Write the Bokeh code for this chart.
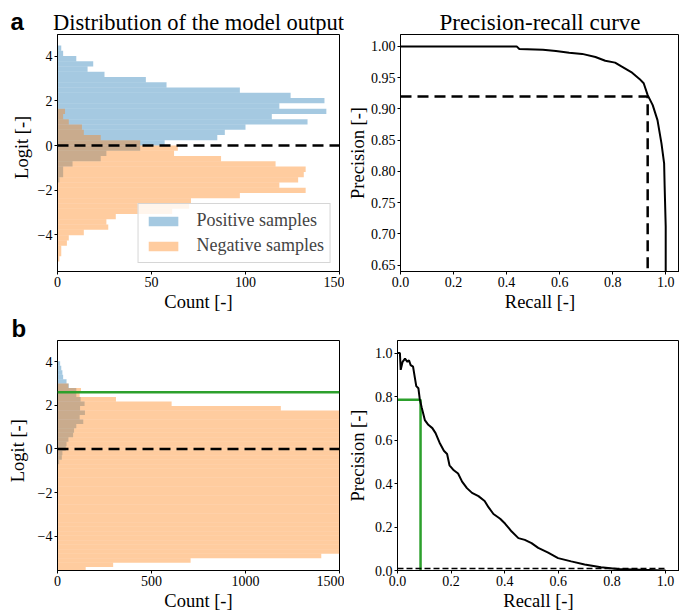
import numpy as np
from bokeh.plotting import figure
from bokeh.layouts import column, row
from bokeh.models import (Range1d, Span, Legend, LegendItem, FixedTicker,
                          NumeralTickFormatter)
from bokeh.core.properties import value
from bokeh.embed import file_html
from bokeh.resources import INLINE

SERIF = "Liberation Serif"
SANS = "Liberation Sans"
BLUE = "#1f77b4"
ORANGE = "#ff7f0e"
GREEN = "#2ca02c"

# ---------------- panel a : histogram of logits ----------------
# bin k covers [(k-1)*w, k*w], k = -21 .. 19
a_bin_width = 0.2364
a_bin_index = list(range(-21, 20))
a_neg_counts = [1, 2, 2, 5, 6, 14, 27, 26, 31, 61, 70, 71, 97, 132, 118, 128, 131, 132,
                116, 87, 62, 64, 44, 23, 14, 13, 6, 3, 4,
                0, 0, 0, 0, 0, 0, 0, 0, 0, 0, 0, 0]
a_pos_counts = [0, 0, 0, 0, 0, 0, 0, 0, 0, 0, 0, 0, 0, 0, 0,
                1, 3, 3, 8, 23, 26, 44, 57, 85, 89, 100, 133, 114, 143, 118, 142,
                124, 97, 58, 47, 25, 16, 19, 10, 3, 2]
a_threshold = 0.0
a_hist_xticks = [0, 50, 100, 150]
logit_ticks = [-4, -2, 0, 2, 4]

# ---------------- panel a : precision-recall ----------------
a_recall = [0.0, 0.438, 0.448, 0.537, 0.586, 0.636, 0.685, 0.735, 0.772, 0.809, 0.833,
            0.870, 0.901, 0.917, 0.932, 0.951, 0.969, 0.984, 0.994, 0.996, 1.0, 1.0, 1.0]
a_precision = [1.0, 1.0, 0.9958, 0.9947, 0.9926, 0.990, 0.988, 0.983, 0.977, 0.974, 0.968,
               0.959, 0.948, 0.941, 0.922, 0.906, 0.882, 0.845, 0.813, 0.776, 0.712, 0.64, 0.5]
a_op_recall = 0.932
a_op_precision = 0.92
a_pr_yticks = [0.65, 0.70, 0.75, 0.80, 0.85, 0.90, 0.95, 1.00]
recall_ticks = [0.0, 0.2, 0.4, 0.6, 0.8, 1.0]

# ---------------- panel b : histogram of logits ----------------
b_bin_low = -5.63
b_bin_width = 0.2055
b_neg_counts = [150, 296, 708, 1403, 2300, 3400, 4700, 6100, 7600, 8900, 10100, 11200,
                12000, 12600, 12900, 13000, 12800, 12300, 11600, 10700, 9800, 8800, 7900,
                7000, 6200, 5500, 4900, 4300, 3800, 3300, 2900, 2500, 2200, 1950, 1700,
                1560, 1188, 607, 311, 118, 125, 58, 0, 0, 0, 0, 0]
b_pos_counts = [0, 0, 0, 0, 0, 0, 0, 0, 0, 0, 0, 0, 0, 0, 0, 0, 0, 0, 0, 0, 0, 0, 0,
                3, 9, 23, 26, 44, 48, 58, 83, 88, 100, 137, 118, 146, 120, 144, 123, 100,
                100, 60, 48, 30, 26, 20, 14]
b_threshold_green = 2.6
b_hist_xticks = [0, 500, 1000, 1500]

# ---------------- panel b : precision-recall ----------------
b_recall = [0.0, 0.009, 0.012, 0.019, 0.028, 0.037, 0.043, 0.049, 0.058, 0.065, 0.070,
            0.078, 0.083, 0.090, 0.102, 0.115, 0.130, 0.142, 0.157, 0.173, 0.185, 0.194,
            0.210, 0.226, 0.241, 0.259, 0.278, 0.302, 0.325, 0.340, 0.358, 0.383, 0.401,
            0.426, 0.451, 0.475, 0.500, 0.525, 0.562, 0.599, 0.648, 0.698, 0.759, 0.821,
            0.907, 1.0]
b_precision = [1.0, 1.0, 0.923, 0.960, 0.975, 0.960, 0.967, 0.945, 0.9375, 0.885, 0.848,
               0.838, 0.789, 0.751, 0.692, 0.670, 0.655, 0.632, 0.588, 0.551, 0.536, 0.484,
               0.461, 0.446, 0.409, 0.379, 0.357, 0.342, 0.320, 0.290, 0.260, 0.238, 0.216,
               0.179, 0.149, 0.141, 0.126, 0.104, 0.082, 0.057, 0.042, 0.028, 0.015, 0.0074,
               0.003, 0.0]
b_op_recall = 0.086
b_op_precision = 0.786
b_baseline = 0.0095
b_baseline_recall = [0.0, 1.0]
b_pr_yticks = [0.0, 0.2, 0.4, 0.6, 0.8, 1.0]

MINUS = {-4: "\u22124", -2: "\u22122"}
STRIP_W = 34
A_YRANGE = (-5.65, 4.98)
C_YRANGE = (-5.58, 4.98)


def base_fig(width, height, xr, yr, bl, br, bt, bb, title=None, title_size="23px"):
    kw = dict(width=width, height=height, x_range=Range1d(*xr), y_range=Range1d(*yr),
              output_backend="svg", toolbar_location=None,
              min_border_left=bl, min_border_right=br, min_border_top=bt,
              min_border_bottom=bb)
    if title is None:
        kw["title"] = None
    p = figure(**kw)
    if title is not None:
        p.title.text = title
        p.title.text_font = SERIF
        p.title.text_font_size = title_size
        p.title.text_font_style = "normal"
        p.title.align = "center"
        p.title.standoff = 0
        p.title.text_color = "black"
    p.xgrid.grid_line_color = None
    p.ygrid.grid_line_color = None
    p.outline_line_color = "black"
    p.outline_line_width = 1
    p.outline_line_alpha = 1
    for axes in (p.xaxis, p.yaxis):
        axes.axis_line_color = "black"
        axes.major_tick_line_color = "black"
        axes.minor_tick_line_color = None
        axes.major_tick_out = 3
        axes.major_tick_in = 0
        axes.major_label_text_font = SERIF
        axes.major_label_text_font_size = "14px"
        axes.major_label_text_color = "black"
        axes.axis_label_text_font = SERIF
        axes.axis_label_text_font_size = "18.5px"
        axes.axis_label_text_font_style = "normal"
        axes.axis_label_text_color = "black"
        axes.major_label_standoff = 2
        axes.axis_label_standoff = 2
    return p


def strip(height, yr, bt, bb, panel_text, panel_x, panel_standoff,
          axis_text, axis_x, axis_y):
    """Narrow left strip: panel letter as its title, rotated y label inside its frame
    (frame shares the logit scale of the neighbouring histogram)."""
    s = figure(width=STRIP_W, height=height, x_range=Range1d(0, STRIP_W),
               y_range=Range1d(*yr), output_backend="svg", toolbar_location=None,
               min_border_left=0, min_border_right=0, min_border_top=bt,
               min_border_bottom=bb, x_axis_location=None, y_axis_location=None)
    s.title.text = panel_text
    s.title.text_font = SANS
    s.title.text_font_style = "bold"
    s.title.text_font_size = "24px"
    s.title.align = "left"
    s.title.offset = panel_x
    s.title.standoff = panel_standoff
    s.title.text_color = "black"
    s.outline_line_color = None
    s.grid.visible = False
    s.text(x=[axis_x], y=[axis_y], text=[axis_text], angle=np.pi / 2,
           text_font=value(SERIF), text_font_size="18.5px", text_align="center",
           text_baseline="middle", text_color="black")
    return s


# ---------- A ----------
ka = np.array(a_bin_index)
a_centers = (ka - 0.5) * a_bin_width
pA = base_fig(344 - STRIP_W, 314, (0, 150), A_YRANGE, 55 - STRIP_W, 5, 34, 42,
              title="Distribution of the model output", title_size="22.5px")
rb = pA.hbar(y=a_centers, height=a_bin_width, left=0, right=a_pos_counts,
             fill_color=BLUE, fill_alpha=0.4, line_color=None)
ro = pA.hbar(y=a_centers, height=a_bin_width, left=0, right=a_neg_counts,
             fill_color=ORANGE, fill_alpha=0.4, line_color=None)
pA.add_layout(Span(location=a_threshold, dimension="width", line_color="black",
                   line_width=2.5, line_dash="11 6"))
pA.xaxis.ticker = FixedTicker(ticks=a_hist_xticks)
pA.yaxis.ticker = FixedTicker(ticks=logit_ticks)
pA.yaxis.major_label_overrides = MINUS
pA.xaxis.axis_label = "Count [-]"
leg = Legend(items=[LegendItem(label="Positive samples", renderers=[rb]),
                    LegendItem(label="Negative samples", renderers=[ro])],
             location="bottom_right", label_text_font=SERIF, label_text_font_size="18px",
             glyph_width=37, glyph_height=12, label_standoff=15, spacing=4, padding=6,
             margin=8, border_line_color="#cccccc", border_line_alpha=0.8,
             background_fill_alpha=0.8, label_height=18)
pA.add_layout(leg)
sA = strip(314, A_YRANGE, 34, 42, "a", 10, 0, "Logit [-]", 21.5, -0.08)

# ---------- B ----------
pB = base_fig(335, 314, (0, 1.052), (0.64, 1.019), 51, 0, 34, 42,
              title="Precision-recall curve")
pB.line(a_recall, a_precision, line_color="black", line_width=2)
pB.line([0, a_op_recall, a_op_recall],
        [a_op_precision, a_op_precision, pB.y_range.start],
        line_color="black", line_width=2.5, line_dash="11 6")
pB.xaxis.ticker = FixedTicker(ticks=recall_ticks)
pB.xaxis.formatter = NumeralTickFormatter(format="0.0")
pB.yaxis.ticker = FixedTicker(ticks=a_pr_yticks)
pB.yaxis.formatter = NumeralTickFormatter(format="0.00")
pB.xaxis.axis_label = "Recall [-]"
pB.yaxis.axis_label = "Precision [-]"
pB.yaxis.axis_label_standoff = 0

# ---------- C ----------
nb = len(b_neg_counts)
b_centers = b_bin_low + (np.arange(nb) + 0.5) * b_bin_width
pC = base_fig(344 - STRIP_W, 299, (0, 1500), C_YRANGE, 55 - STRIP_W, 5, 24, 39)
pC.hbar(y=b_centers, height=b_bin_width, left=0, right=b_pos_counts,
        fill_color=BLUE, fill_alpha=0.4, line_color=None)
pC.hbar(y=b_centers, height=b_bin_width, left=0, right=b_neg_counts,
        fill_color=ORANGE, fill_alpha=0.4, line_color=None)
pC.add_layout(Span(location=b_threshold_green, dimension="width", line_color=GREEN,
                   line_width=2.5))
pC.add_layout(Span(location=a_threshold, dimension="width", line_color="black",
                   line_width=2.5, line_dash="11 6"))
pC.xaxis.ticker = FixedTicker(ticks=b_hist_xticks)
pC.yaxis.ticker = FixedTicker(ticks=logit_ticks)
pC.yaxis.major_label_overrides = MINUS
pC.xaxis.axis_label = "Count [-]"
sC = strip(299, C_YRANGE, 24, 39, "b", 11, -3, "Logit [-]", 17, -0.08)

# ---------- D ----------
pD = base_fig(335, 299, (0, 1.052), (0, 1.058), 51, 0, 24, 39)
pD.line([0, b_op_recall, b_op_recall], [b_op_precision, b_op_precision, pD.y_range.start],
        line_color=GREEN, line_width=2.5)
pD.line(b_baseline_recall, [b_baseline, b_baseline], line_color="black", line_width=1.5,
        line_dash="6 3")
pD.line(b_recall, b_precision, line_color="black", line_width=2)
pD.xaxis.ticker = FixedTicker(ticks=recall_ticks)
pD.xaxis.formatter = NumeralTickFormatter(format="0.0")
pD.yaxis.ticker = FixedTicker(ticks=b_pr_yticks)
pD.yaxis.formatter = NumeralTickFormatter(format="0.0")
pD.xaxis.axis_label = "Recall [-]"
pD.yaxis.axis_label = "Precision [-]"
pD.yaxis.axis_label_standoff = 4

layout = column(row(sA, pA, pB), row(sC, pC, pD))
open("out.html", "w").write(file_html(layout, INLINE))
